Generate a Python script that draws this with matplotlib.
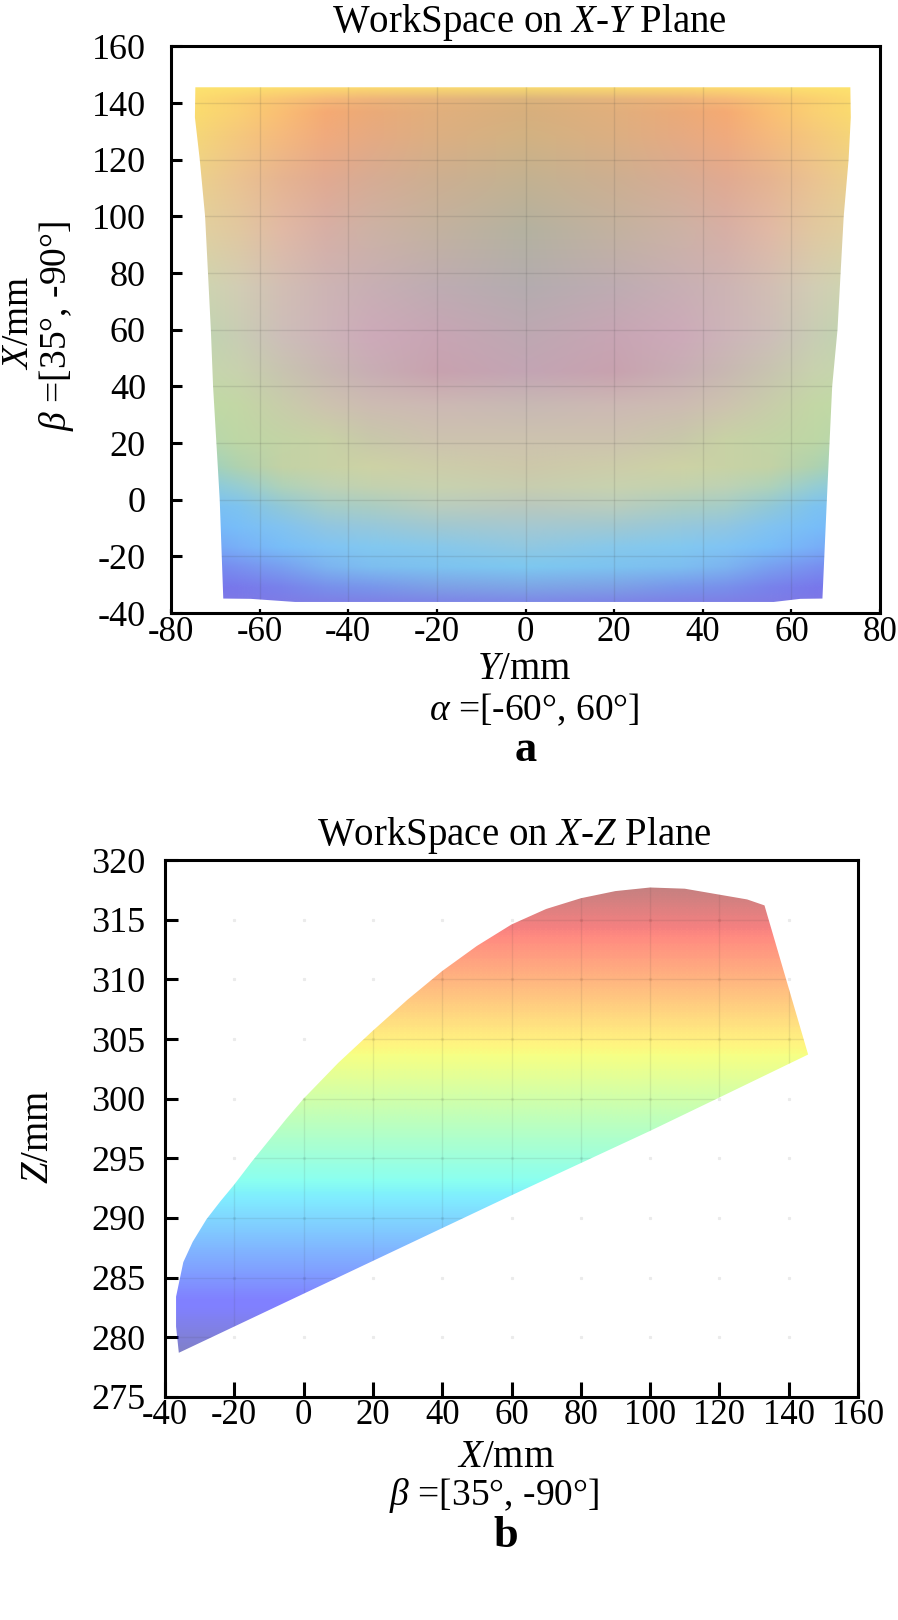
import numpy as np
import matplotlib
matplotlib.use('Agg')
import matplotlib.pyplot as plt
from matplotlib.path import Path
from matplotlib.patches import PathPatch
from matplotlib.image import NonUniformImage
from matplotlib.colors import to_rgb

plt.rcParams['font.family'] = ['Liberation Serif', 'DejaVu Serif']
plt.rcParams['mathtext.fontset'] = 'custom'
plt.rcParams['mathtext.rm'] = 'Liberation Serif'
plt.rcParams['mathtext.it'] = 'Liberation Serif:italic'
plt.rcParams['mathtext.bf'] = 'Liberation Serif:bold'
plt.rcParams['axes.unicode_minus'] = False

# ---- panel a: workspace on X-Y plane (outline as (Y, X) in mm) ----
xy_outline_y = [-74.5, 73.3, 73.4, 72.9, 71.8, 70.4, 69.2, 68.0, 67.0, 62.0, 56.0,
                -52.0, -62.0, -68.2, -69.0, -70.5, -71.0, -72.3, -73.5, -74.6]
xy_outline_x = [145.6, 145.6, 135.0, 120.0, 100.0, 60.0, 40.0, 0.0, -34.9, -35.0, -36.1,
                -36.1, -35.0, -34.9, 0.0, 40.0, 60.0, 100.0, 120.0, 135.0]

# colour samples of the shaded surface; rows at X, columns at Y (left half, mirrored)
xy_rows_x = [146, 141, 136.5, 128, 113, 95, 75, 57.5, 45, 33, 21, 11.5, 4.5,
             -2.6, -9.7, -16.8, -23.8, -31, -36]
xy_cols_y = [-75, -65, -55, -45, -35, -20, 0]
xy_colors = [
    ['#fde46e', '#fde46e', '#fde26e', '#fde06e', '#fde06e', '#fde06e', '#fde06e'],
    ['#fcdc6e', '#fbd070', '#f9c474', '#f6b878', '#efb47a', '#e6b47c', '#dcb47c'],
    ['#fadc6e', '#fad073', '#fabe73', '#f5aa73', '#ebaa78', '#e1af7d', '#d7af7d'],
    ['#f5d778', '#f5c87d', '#f5b97d', '#f0aa7d', '#e6aa82', '#dcaf82', '#d2b282'],
    ['#ebd28c', '#ebc391', '#e6b491', '#e1aa91', '#d7ac94', '#cdaf91', '#c3b291'],
    ['#e1d2a0', '#e1c8a0', '#e1b9a5', '#d7afa5', '#cdb2a5', '#c3b2a0', '#b4b2a0'],
    ['#cdd7af', '#d2cdb4', '#d2beb4', '#cdb4b4', '#c8afb4', '#beacb2', '#b4acaf'],
    ['#bed7af', '#c8cdb4', '#cdbeb9', '#cdb4b9', '#cdaab9', '#c8a5b4', '#bea8b2'],
    ['#c4d8ac', '#c8d2ae', '#c8c4b0', '#c8b8b2', '#c8aeb4', '#c8a2af', '#c3a5b4'],
    ['#bedca5', '#c3d7a5', '#c8cdaa', '#cdc3af', '#cdbcb2', '#cdb9b4', '#c8b9b4'],
    ['#b4d7af', '#bed7a5', '#c3d4a5', '#c8d2a5', '#c8c8aa', '#cdc3af', '#cdc3af'],
    ['#96d2c8', '#afd2af', '#c3d2a5', '#c8d2a5', '#cdd2a5', '#cdcdaa', '#cdc8aa'],
    ['#82c8e6', '#96cdd2', '#afd2b9', '#bed2b4', '#c3d2af', '#c8d2af', '#c8cdaf'],
    ['#78bef5', '#7dc3f0', '#91c8d7', '#a5cdc8', '#aacdc3', '#b9cdbe', '#b9c8be'],
    ['#73b4fa', '#78bef8', '#82c3f0', '#91c6e1', '#96c8dc', '#a0c8d2', '#a5c8d2'],
    ['#73a0f5', '#78b0f8', '#78bef8', '#80c4f4', '#82c8f0', '#87c8eb', '#91c8e1'],
    ['#7382f0', '#7891f0', '#78a0f0', '#7cb4f0', '#7dbef0', '#7dc3f0', '#7dc8f0'],
    ['#7873eb', '#7878eb', '#7882eb', '#7890eb', '#7896eb', '#7da0e6', '#7da5e6'],
    ['#7d78e6', '#7d78e6', '#7d7ce6', '#7d80e6', '#7d82e6', '#7d86e6', '#7d8ae6'],
]

# ---- panel b: workspace on X-Z plane (outline as (X, Z) in mm) ----
xz_outline_x = [-36.0, -36.8, -36.8, -34.7, -32, -28, -24, -20, -15, -10, -5, 0, 10, 20,
                30, 40, 50, 60, 70, 80, 90, 100, 110, 120, 128, 133, 145.6, 120, 100,
                60, 20, -20]
xz_outline_z = [278.7, 280.9, 283.4, 286.3, 288.0, 289.9, 291.4, 292.8, 294.7, 296.5,
                298.3, 300.0, 303.0, 305.7, 308.3, 310.7, 312.8, 314.6, 315.9, 316.8,
                317.4, 317.7, 317.6, 317.1, 316.7, 316.2, 303.7, 300.1, 297.3, 291.9,
                286.4, 280.9]
z_color_range = [278.0, 318.0]


def build_patch(ax, xs, ys):
    verts = list(zip(xs, ys))
    verts.append(verts[0])
    codes = [Path.MOVETO] + [Path.LINETO] * (len(verts) - 2) + [Path.CLOSEPOLY]
    patch = PathPatch(Path(verts, codes), facecolor='none', edgecolor='none',
                      transform=ax.transData)
    ax.add_patch(patch)
    return patch


def style_axes(ax, ypad, xpad, ylen, xlen):
    for sp in ax.spines.values():
        sp.set_linewidth(2.2)
    ax.tick_params(axis='y', direction='in', length=ylen, width=2.2,
                   labelsize=26, pad=ypad, right=False)
    ax.tick_params(axis='x', direction='in', length=xlen, width=1.6,
                   labelsize=25, pad=xpad, top=False)


fig = plt.figure(figsize=(8.98, 16.2), dpi=100)

# ===== panel a =====
ax1 = fig.add_axes([0.1904, 0.6216, 0.7896, 0.3497])
ax1.set_xlim(-80, 80)
ax1.set_ylim(-40, 160)
patch_a = build_patch(ax1, xy_outline_y, xy_outline_x)

cols = np.array(xy_cols_y + [-c for c in xy_cols_y[-2::-1]], dtype=float)
rgb = np.array([[to_rgb(c) for c in row + row[-2::-1]] for row in xy_colors])
rows = np.array(xy_rows_x, dtype=float)[::-1]
rgb = rgb[::-1]
im = NonUniformImage(ax1, interpolation='bilinear', extent=(-75, 75, -36, 146))
im.set_data(cols, rows, rgb)
ax1.add_image(im)
im.set_clip_path(patch_a)

for v in range(-60, 61, 20):
    ln, = ax1.plot([v, v], [-40, 160], color='#404040', alpha=0.13, lw=1)
    ln.set_clip_path(patch_a)
for h in range(-20, 141, 20):
    ln, = ax1.plot([-80, 80], [h, h], color='#404040', alpha=0.13, lw=1)
    ln.set_clip_path(patch_a)

ax1.set_xticks(range(-80, 81, 20))
ax1.set_yticks(range(-40, 161, 20))
style_axes(ax1, ypad=18, xpad=2, ylen=8, xlen=3)

fig.text(0.590, 0.986, r'WorkSpace on $X$-$Y$ Plane', fontsize=28, ha='center', va='center')
fig.text(0.5835, 0.5870, r'$Y$/mm', fontsize=28, ha='center', va='center')
fig.text(0.5947, 0.5620, r'$\alpha$ =[-60°, 60°]', fontsize=27, ha='center', va='center')
fig.text(0.5857, 0.5370, 'a', fontsize=32, fontweight='bold', ha='center', va='center')
fig.text(0.0210, 0.8006, r'$X$/mm', fontsize=27, rotation=90, ha='center', va='center')
fig.text(0.0630, 0.7988, r'$\beta$ =[35°, -90°]', fontsize=27, rotation=90,
         ha='center', va='center')

# ===== panel b =====
ax2 = fig.add_axes([0.1837, 0.1377, 0.7718, 0.3314])
ax2.set_xlim(-40, 160)
ax2.set_ylim(275, 320)
patch_b = build_patch(ax2, xz_outline_x, xz_outline_z)

# faint grid dots outside the surface
gx, gz = np.meshgrid(np.arange(-20, 141, 20), np.arange(280, 316, 5))
ax2.plot(gx.ravel(), gz.ravel(), ls='none', marker='s', ms=1.3, color='#ebebeb', zorder=1)

z_lo, z_hi = z_color_range
half = (z_hi - z_lo) / 2
img = ax2.imshow(np.array([[z_hi, z_hi], [z_lo, z_lo]]), cmap='jet', vmin=z_lo, vmax=z_hi,
                 alpha=0.5, interpolation='bilinear', interpolation_stage='data',
                 extent=(-40, 160, z_lo - half, z_hi + half), origin='upper',
                 aspect='auto', zorder=2)
img.set_clip_path(patch_b)

for v in range(-20, 141, 20):
    ln, = ax2.plot([v, v], [275, 320], color='#404040', alpha=0.1, lw=1, zorder=3)
    ln.set_clip_path(patch_b)
for h in range(280, 316, 5):
    ln, = ax2.plot([-40, 160], [h, h], color='#404040', alpha=0.1, lw=1, zorder=3)
    ln.set_clip_path(patch_b)

ax2.set_xlim(-40, 160)
ax2.set_ylim(275, 320)
ax2.set_xticks(range(-40, 161, 20))
ax2.set_yticks(range(275, 321, 5))
style_axes(ax2, ypad=14, xpad=1.5, ylen=9, xlen=11)
ax2.tick_params(axis='x', width=2.2)

fig.text(0.5724, 0.4840, r'WorkSpace on $X$-$Z$ Plane', fontsize=28, ha='center', va='center')
fig.text(0.5635, 0.1005, r'$X$/mm', fontsize=28, ha='center', va='center')
fig.text(0.5501, 0.0770, r'$\beta$ =[35°, -90°]', fontsize=27, ha='center', va='center')
fig.text(0.5635, 0.0520, 'b', fontsize=32, fontweight='bold', ha='center', va='center')
fig.text(0.0434, 0.2981, r'$Z$/mm', fontsize=28, rotation=90, ha='center', va='center')

fig.savefig('out.png', dpi=100)
